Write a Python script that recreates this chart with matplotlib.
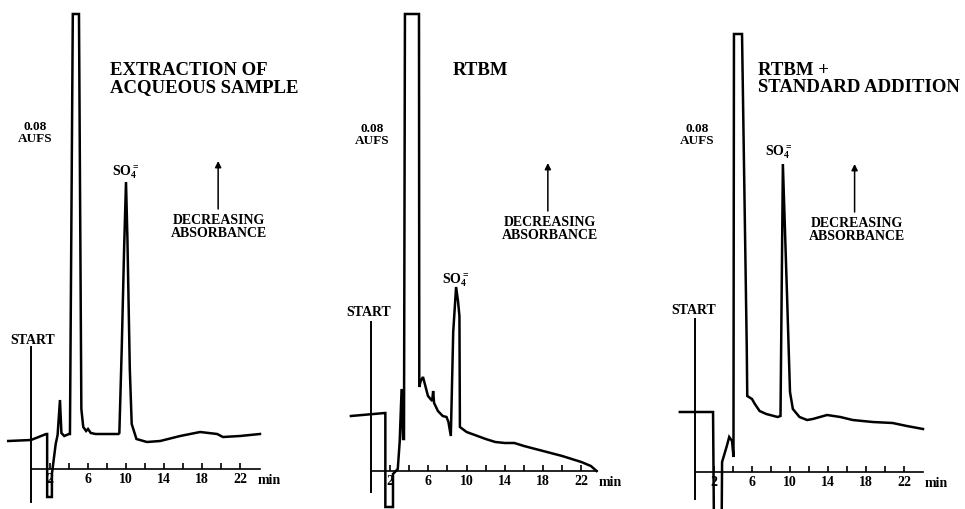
import matplotlib
matplotlib.use("Agg")
import matplotlib.pyplot as plt

plt.rcParams['font.family'] = ['Liberation Serif', 'DejaVu Serif']
plt.rcParams['font.weight'] = 'bold'
plt.rcParams['mathtext.fontset'] = 'custom'
plt.rcParams['mathtext.rm'] = 'Liberation Serif:bold'
plt.rcParams['mathtext.bf'] = 'Liberation Serif:bold'
plt.rcParams['mathtext.default'] = 'bf'

# --- data: time (min) vs detector signal (arbitrary units, 0 = chart baseline axis)
# extraction of aqueous sample
t1 = [-2.4, 0.0, 1.6, 1.7, 1.7, 2.2, 2.2, 2.4, 2.6, 2.8, 3.05, 3.2, 3.5, 4.0, 4.1,
      4.4, 5.05, 5.3, 5.5, 5.8, 6.0, 6.3, 6.8, 9.2, 9.3, 9.55, 9.8, 10.0, 10.15,
      10.4, 10.6, 11.1, 12.2, 13.6, 15.7, 17.8, 19.6, 20.2, 22.0, 24.1]
s1 = [0.28, 0.29, 0.35, 0.35, -0.28, -0.28, -0.05, 0.10, 0.25, 0.34, 0.69, 0.36,
      0.33, 0.35, 0.35, 4.55, 4.55, 0.60, 0.42, 0.38, 0.40, 0.36, 0.35, 0.35, 0.36,
      1.20, 2.20, 2.87, 2.30, 1.00, 0.45, 0.30, 0.27, 0.28, 0.33, 0.37, 0.35, 0.32,
      0.33, 0.35]

# RTBM
t2 = [-2.1, 1.45, 1.5, 1.5, 2.3, 2.3, 2.8, 3.0, 3.2, 3.35, 3.45, 3.55, 5.02, 5.05,
      5.2, 5.44, 5.96, 6.4, 6.5, 6.6, 7.0, 7.5, 7.9, 8.1, 8.35, 8.6, 8.9, 9.1, 9.25,
      9.3, 10.0, 12.0, 13.0, 14.0, 15.0, 16.0, 18.0, 20.0, 22.0, 23.0, 23.6]
s2 = [0.55, 0.58, 0.58, -0.36, -0.36, -0.03, 0.02, 0.29, 0.82, 0.32, 0.32, 4.57,
      4.57, 0.84, 0.90, 0.94, 0.75, 0.70, 0.80, 0.68, 0.60, 0.55, 0.54, 0.49, 0.35,
      1.39, 1.84, 1.70, 1.55, 0.44, 0.39, 0.32, 0.29, 0.28, 0.28, 0.25, 0.20, 0.15,
      0.09, 0.05, 0.0]

# RTBM + standard addition
t3 = [-1.6, 1.9, 2.0, 2.8, 2.85, 3.35, 3.6, 3.9, 4.05, 4.1, 4.95, 5.45, 5.5, 6.0,
      6.3, 6.8, 7.5, 8.7, 9.0, 9.25, 9.7, 10.0, 10.3, 11.0, 11.8, 12.4, 13.9, 15.3,
      16.6, 18.7, 20.8, 22.3, 24.0]
s3 = [0.60, 0.60, -0.60, -0.60, 0.10, 0.26, 0.35, 0.31, 0.15, 4.38, 4.38, 1.23,
      0.76, 0.73, 0.68, 0.61, 0.58, 0.55, 0.56, 3.08, 1.73, 0.80, 0.63, 0.55, 0.52,
      0.53, 0.57, 0.55, 0.52, 0.50, 0.49, 0.46, 0.43]

titles = ["EXTRACTION OF\nACQUEOUS SAMPLE", "RTBM", "RTBM +\nSTANDARD ADDITION"]
tick_minutes = [2, 4, 6, 8, 10, 12, 14, 16, 18, 20, 22]
tick_labels = ["2", "", "6", "", "10", "", "14", "", "18", "", "22"]

W, H, DPI = 965, 510, 100
fig = plt.figure(figsize=(W / DPI, H / DPI), dpi=DPI)

# layout (pixels): axes left/right, t=0 position, px per min, baseline row
panels = [
    dict(t=t1, s=s1, left=0, right=320, x0=31, ppm=9.5, ay=470, axend=24.1,
         title_xy=(8.3, 4.08), so4=(10.0, 2.98), start=(0.15, 1.30, 1.22, -0.33),
         aufs=(0.4, 3.37), arrow=19.7, dec=19.8, minx=23.9),
    dict(t=t2, s=s2, left=320, right=640, x0=371, ppm=9.56, ay=472, axend=23.6,
         title_xy=(8.5, 4.10), so4=(8.9, 1.92), start=(-0.2, 1.59, 1.49, -0.21),
         aufs=(0.1, 3.37), arrow=18.5, dec=18.7, minx=23.85),
    dict(t=t3, s=s3, left=640, right=965, x0=695, ppm=9.5, ay=473, axend=24.0,
         title_xy=(6.6, 4.11), so4=(8.85, 3.21), start=(-0.1, 1.63, 1.53, -0.27),
         aufs=(0.2, 3.38), arrow=16.8, dec=17.05, minx=24.2),
]

for i, p in enumerate(panels):
    ax = fig.add_axes([p['left'] / W, 0, (p['right'] - p['left']) / W, 1])
    ax.set_xlim((p['left'] - p['x0']) / p['ppm'], (p['right'] - p['x0']) / p['ppm'])
    ax.set_ylim(-(H - p['ay']) / 100, p['ay'] / 100)
    ax.patch.set_alpha(0)

    ax.plot(p['t'], p['s'], color='black', lw=1.8, solid_joinstyle='miter')

    # time axis
    for side in ['left', 'right', 'top']:
        ax.spines[side].set_visible(False)
    ax.spines['bottom'].set_position(('data', 0))
    ax.spines['bottom'].set_bounds(0, p['axend'])
    ax.spines['bottom'].set_linewidth(1.2)
    ax.set_yticks([])
    ax.set_xticks(tick_minutes)
    ax.set_xticklabels(tick_labels)
    ax.tick_params(axis='x', direction='in', length=4, width=1.2, pad=2,
                   labelsize=10)
    for lab in ax.get_xticklabels():
        lab.set_fontweight('bold')
    ax.text(p['minx'], -0.11, "min", ha='left', va='center', fontsize=10)

    # injection marker
    sx, sy, top, bot = p['start']
    ax.plot([0, 0], [bot, top], color='black', lw=1.4)
    ax.text(sx, sy, "START", ha='center', va='center', fontsize=10)

    ax.text(p['aufs'][0], p['aufs'][1], "0.08\nAUFS", ha='center', va='center',
            fontsize=9.5, linespacing=1.0)

    ax.text(p['title_xy'][0], p['title_xy'][1], titles[i], ha='left', va='top',
            fontsize=13.5, linespacing=1.0)

    ax.text(p['so4'][0], p['so4'][1], r"SO$_{4}^{=}$", ha='center', va='center',
            fontsize=10)

    ax.annotate("", xy=(p['arrow'], 3.08), xytext=(p['arrow'], 2.6),
                arrowprops=dict(arrowstyle='-|>', color='black', lw=1.1,
                                mutation_scale=9, shrinkA=0, shrinkB=0))
    ax.text(p['dec'], 2.56, "DECREASING\nABSORBANCE", ha='center', va='top',
            fontsize=10, linespacing=1.0)

fig.savefig("out.png", dpi=DPI, facecolor='white')
